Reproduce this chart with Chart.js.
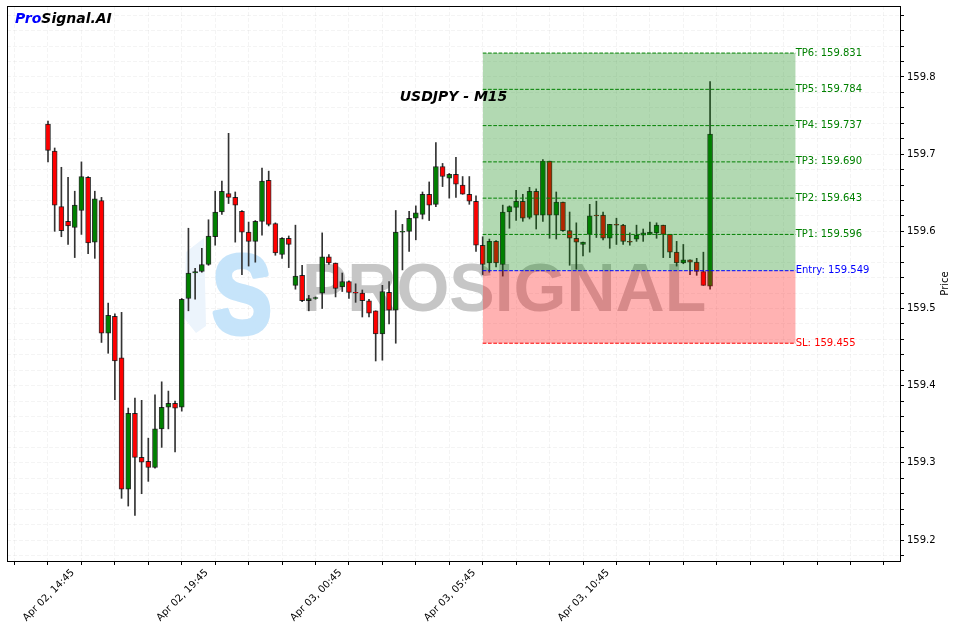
<!DOCTYPE html>
<html>
<head>
<meta charset="utf-8">
<script src="https://cdn.jsdelivr.net/npm/chart.js@4.4.0/dist/chart.umd.min.js"></script>
<style>
    html, body { margin: 0; padding: 0; background: #ffffff; }
    canvas { display: block; }
</style>
</head>
<body>
<canvas id="usdjpy-chart" width="956" height="630"></canvas>
<script>
// Bougies M15, index 0 = Apr 02, 14:45
const opens = [
    159.739, 159.704, 159.632, 159.613, 159.605, 159.627, 159.670, 159.586, 159.640, 159.468,
    159.490, 159.436, 159.266, 159.364, 159.307, 159.302, 159.294, 159.344, 159.372, 159.377,
    159.372, 159.513, 159.546, 159.548, 159.557, 159.593, 159.625, 159.649, 159.644, 159.626,
    159.599, 159.587, 159.613, 159.666, 159.610, 159.570, 159.591, 159.530, 159.543, 159.510,
    159.513, 159.520, 159.567, 159.559, 159.528, 159.535, 159.521, 159.520, 159.510, 159.497,
    159.467, 159.521, 159.498, 159.599, 159.600, 159.617, 159.622, 159.648, 159.635, 159.684,
    159.669, 159.674, 159.660, 159.648, 159.639, 159.582, 159.559, 159.587, 159.557, 159.625,
    159.631, 159.639, 159.618, 159.652, 159.621, 159.691, 159.621, 159.638, 159.601, 159.591,
    159.583, 159.596, 159.621, 159.621, 159.591, 159.609, 159.608, 159.587, 159.590, 159.595,
    159.596, 159.598, 159.608, 159.596, 159.573, 159.559, 159.563, 159.560, 159.548, 159.529
];
const highs = [
    159.743, 159.708, 159.683, 159.670, 159.652, 159.690, 159.671, 159.652, 159.644, 159.507,
    159.493, 159.495, 159.371, 159.384, 159.381, 159.332, 159.388, 159.405, 159.393, 159.380,
    159.513, 159.604, 159.552, 159.578, 159.615, 159.652, 159.665, 159.727, 159.651, 159.627,
    159.612, 159.614, 159.682, 159.678, 159.611, 159.592, 159.594, 159.608, 159.556, 159.517,
    159.515, 159.598, 159.570, 159.559, 159.546, 159.536, 159.532, 159.524, 159.512, 159.497,
    159.530, 159.535, 159.627, 159.609, 159.626, 159.633, 159.651, 159.664, 159.715, 159.688,
    159.675, 159.696, 159.671, 159.671, 159.646, 159.593, 159.590, 159.588, 159.634, 159.633,
    159.653, 159.648, 159.657, 159.655, 159.693, 159.691, 159.651, 159.638, 159.625, 159.611,
    159.586, 159.635, 159.639, 159.625, 159.609, 159.617, 159.609, 159.598, 159.608, 159.603,
    159.612, 159.611, 159.608, 159.596, 159.587, 159.583, 159.563, 159.565, 159.573, 159.794
];
const lows = [
    159.690, 159.600, 159.593, 159.583, 159.566, 159.596, 159.571, 159.565, 159.456, 159.442,
    159.382, 159.254, 159.244, 159.232, 159.260, 159.276, 159.293, 159.320, 159.344, 159.314,
    159.367, 159.497, 159.512, 159.547, 159.556, 159.582, 159.622, 159.636, 159.586, 159.544,
    159.555, 159.560, 159.595, 159.607, 159.569, 159.565, 159.553, 159.525, 159.509, 159.497,
    159.512, 159.500, 159.557, 159.515, 159.522, 159.513, 159.508, 159.489, 159.489, 159.432,
    159.433, 159.480, 159.455, 159.550, 159.574, 159.589, 159.616, 159.614, 159.632, 159.658,
    159.643, 159.644, 159.648, 159.635, 159.574, 159.544, 159.547, 159.554, 159.542, 159.604,
    159.614, 159.613, 159.616, 159.603, 159.613, 159.591, 159.590, 159.600, 159.556, 159.551,
    159.568, 159.573, 159.592, 159.589, 159.578, 159.583, 159.583, 159.582, 159.587, 159.587,
    159.596, 159.591, 159.566, 159.566, 159.555, 159.558, 159.544, 159.543, 159.530, 159.525
];
const closes = [
    159.705, 159.634, 159.601, 159.607, 159.634, 159.671, 159.585, 159.642, 159.468, 159.491,
    159.432, 159.266, 159.364, 159.307, 159.301, 159.294, 159.344, 159.372, 159.377, 159.371,
    159.512, 159.546, 159.548, 159.557, 159.594, 159.625, 159.652, 159.644, 159.634, 159.599,
    159.587, 159.613, 159.665, 159.609, 159.572, 159.591, 159.583, 159.542, 159.510, 159.513,
    159.514, 159.567, 159.559, 159.526, 159.535, 159.521, 159.520, 159.510, 159.494, 159.467,
    159.522, 159.498, 159.599, 159.600, 159.617, 159.624, 159.648, 159.634, 159.684, 159.671,
    159.674, 159.661, 159.648, 159.639, 159.582, 159.557, 159.587, 159.559, 159.625, 159.632,
    159.639, 159.617, 159.652, 159.621, 159.691, 159.621, 159.638, 159.601, 159.591, 159.586,
    159.586, 159.620, 159.620, 159.591, 159.609, 159.608, 159.587, 159.586, 159.595, 159.598,
    159.599, 159.608, 159.596, 159.573, 159.559, 159.563, 159.560, 159.548, 159.530, 159.726
];

// Étiquettes de l'axe des temps
const tickIndices = [0, 20, 40, 60, 80];
const tickLabels = ['Apr 02, 14:45', 'Apr 02, 19:45', 'Apr 03, 00:45', 'Apr 03, 05:45', 'Apr 03, 10:45'];

// Niveaux du signal
const levelNames = ['TP6', 'TP5', 'TP4', 'TP3', 'TP2', 'TP1', 'Entry', 'SL'];
const levelValues = [159.831, 159.784, 159.737, 159.690, 159.643, 159.596, 159.549, 159.455];
const zoneStart = 65;
const zoneEnd = 111.8;

const ENTRY = levelValues[levelNames.indexOf('Entry')];

function levelColor(name) {
    if (name === 'Entry') return '#0000ff';
    if (name === 'SL') return '#ff0000';
    return '#008000';
}

// Mèches et corps des bougies
const wickData = opens.map((o, i) => ({ x: i, y: [lows[i], highs[i]] }));
const bodyData = opens.map((o, i) => ({ x: i, y: [Math.min(o, closes[i]), Math.max(o, closes[i])] }));
const bodyColors = opens.map((o, i) => closes[i] >= o ? '#008000' : '#ff0000');

// Lignes des niveaux (+ zones remplies pour TP6 et SL)
const levelDatasets = levelNames.map((name, k) => {
    const ds = {
        type: 'line',
        data: [{ x: zoneStart, y: levelValues[k] }, { x: zoneEnd, y: levelValues[k] }],
        borderColor: levelColor(name),
        borderWidth: 1,
        borderDash: [3.7, 1.6],
        pointRadius: 0,
        fill: false,
        order: 0
    };
    if (name === 'TP6') {
        ds.fill = { value: ENTRY };
        ds.backgroundColor = 'rgba(0, 128, 0, 0.3)';
        ds.order = 1;
    }
    if (name === 'SL') {
        ds.fill = { value: ENTRY };
        ds.backgroundColor = 'rgba(255, 0, 0, 0.3)';
        ds.order = 1;
    }
    return ds;
});

const FONT = 'DejaVu Sans';

// Filigrane + textes
const overlayPlugin = {
    id: 'overlay',
    beforeDatasetsDraw(chart) {
        const ctx = chart.ctx;
        // forme pâle à gauche du logo
        ctx.save();
        ctx.fillStyle = 'rgb(236, 244, 252)';
        ctx.beginPath();
        ctx.moveTo(204, 238);
        ctx.lineTo(186, 252);
        ctx.lineTo(184, 318);
        ctx.lineTo(196, 333);
        ctx.lineTo(206, 326);
        ctx.closePath();
        ctx.fill();
        ctx.restore();

        // logo "S"
        ctx.save();
        ctx.fillStyle = 'rgb(198, 228, 250)';
        ctx.strokeStyle = 'rgb(198, 228, 250)';
        ctx.lineWidth = 5;
        ctx.lineJoin = 'round';
        ctx.font = 'bold 112px "Liberation Sans"';
        ctx.textBaseline = 'alphabetic';
        ctx.translate(212, 333);
        ctx.scale(0.8, 1);
        ctx.fillText('S', 0, 0);
        ctx.strokeText('S', 0, 0);
        ctx.restore();

        ctx.save();
        ctx.fillStyle = 'rgb(198, 198, 198)';
        ctx.font = 'bold 68px "Liberation Sans"';
        ctx.textBaseline = 'alphabetic';
        ctx.fillText('PROSIGNAL', 302, 311);
        ctx.restore();
    },
    afterDatasetsDraw(chart) {
        const ctx = chart.ctx;
        const xs = chart.scales.x;
        const ys = chart.scales.y;
        const area = chart.chartArea;

        ctx.save();
        ctx.font = '10px "' + FONT + '"';
        ctx.textAlign = 'left';
        ctx.textBaseline = 'middle';
        const xLabel = xs.getPixelForValue(zoneEnd);
        levelNames.forEach((name, k) => {
            ctx.fillStyle = levelColor(name);
            ctx.fillText(name + ': ' + levelValues[k].toFixed(3), xLabel, ys.getPixelForValue(levelValues[k]));
        });

        // titre
        ctx.fillStyle = '#000';
        ctx.font = 'italic bold 14px "' + FONT + '"';
        ctx.textAlign = 'center';
        ctx.fillText('USDJPY - M15', (area.left + area.right) / 2, area.top + 91);

        // marque
        ctx.font = 'italic bold 14px "' + FONT + '"';
        ctx.textAlign = 'left';
        ctx.fillStyle = '#0000ff';
        ctx.fillText('Pro', 15, 19);
        const w = ctx.measureText('Pro').width;
        ctx.fillStyle = '#000';
        ctx.fillText('Signal.AI', 15 + w, 19);
        ctx.restore();
    },
    afterDraw(chart) {
        const ctx = chart.ctx;
        const area = chart.chartArea;
        ctx.save();
        ctx.strokeStyle = '#000';
        ctx.lineWidth = 1;
        ctx.strokeRect(area.left + 0.5, area.top + 0.5, area.right - area.left, area.bottom - area.top);

        // titre de l'axe Y (lu de bas en haut)
        ctx.fillStyle = '#000';
        ctx.font = '10px "' + FONT + '"';
        ctx.textAlign = 'center';
        ctx.textBaseline = 'middle';
        ctx.translate(945, (area.top + area.bottom) / 2);
        ctx.rotate(-Math.PI / 2);
        ctx.fillText('Price', 0, 0);
        ctx.restore();
    }
};

Chart.defaults.font.family = FONT;
Chart.defaults.font.size = 10;
Chart.defaults.color = '#000';

const ctx = document.getElementById('usdjpy-chart');
new Chart(ctx, {
    type: 'bar',
    data: {
        datasets: [
            ...levelDatasets,
            {
                label: 'bodies',
                data: bodyData,
                backgroundColor: bodyColors,
                borderColor: 'rgba(0, 0, 0, 0.8)',
                borderWidth: 1,
                borderSkipped: false,
                barThickness: 5,
                grouped: false,
                order: 2
            },
            {
                label: 'wicks',
                data: wickData,
                backgroundColor: '#333333',
                borderWidth: 0,
                barThickness: 1,
                grouped: false,
                order: 3
            }
        ]
    },
    options: {
        responsive: false,
        animation: false,
        devicePixelRatio: 1,
        layout: { padding: { left: 7, top: 6, right: 0, bottom: 0 } },
        plugins: {
            legend: { display: false },
            tooltip: { enabled: false },
            title: { display: false }
        },
        scales: {
            x: {
                type: 'linear',
                min: -6.13,
                max: 127.4,
                offset: false,
                afterBuildTicks(scale) {
                    const ticks = [];
                    for (let v = -5; v <= 125; v += 5) ticks.push({ value: v });
                    scale.ticks = ticks;
                },
                afterFit(scale) {
                    scale.height = 69;
                    scale.paddingLeft = 0;
                    scale.paddingRight = 0;
                },
                ticks: {
                    autoSkip: false,
                    minRotation: 45,
                    maxRotation: 45,
                    labelOffset: 25,
                    padding: 2,
                    font: { size: 10 },
                    callback(value) {
                        const k = tickIndices.indexOf(value);
                        return k >= 0 ? tickLabels[k] : '';
                    }
                },
                grid: {
                    offset: false,
                    color: 'rgba(0, 0, 0, 0.045)',
                    tickColor: '#000',
                    tickLength: 4
                },
                border: { display: true, color: '#000', dash: [4, 2] }
            },
            y: {
                type: 'linear',
                position: 'right',
                min: 159.1728,
                max: 159.892,
                afterBuildTicks(scale) {
                    const ticks = [];
                    for (let k = 0; k <= 35; k++) ticks.push({ value: Math.round((159.18 + k * 0.02) * 1000) / 1000 });
                    scale.ticks = ticks;
                },
                afterFit(scale) {
                    scale.width = 56;
                    scale.paddingTop = 0;
                    scale.paddingBottom = 0;
                },
                ticks: {
                    autoSkip: false,
                    padding: 3,
                    font: { size: 10 },
                    callback(value) {
                        const r = Math.round(value * 10) / 10;
                        return Math.abs(value - r) < 1e-6 ? r.toFixed(1) : '';
                    }
                },
                grid: {
                    color: 'rgba(0, 0, 0, 0.045)',
                    tickColor: '#000',
                    tickLength: 4
                },
                border: { display: true, color: '#000', dash: [4, 2] }
            }
        }
    },
    plugins: [overlayPlugin]
});
</script>
</body>
</html>
